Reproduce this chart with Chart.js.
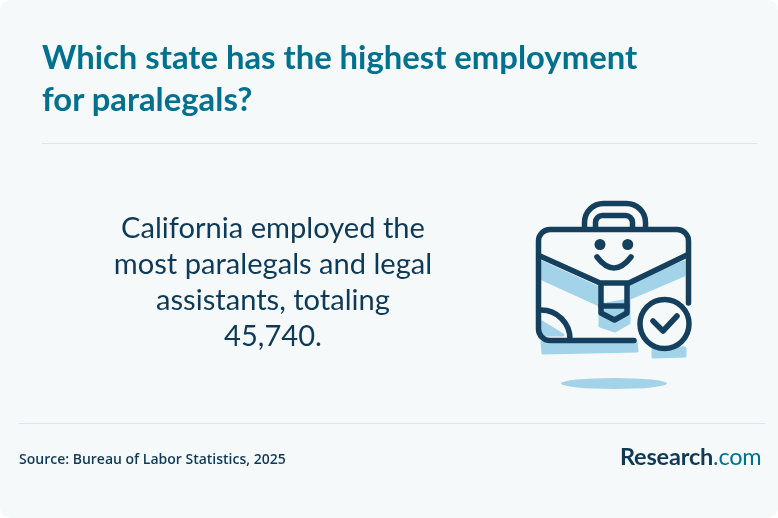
<!DOCTYPE html>
<html>
<head>
<meta charset="utf-8">
<script src="https://cdn.jsdelivr.net/npm/chart.js@4"></script>
<style>
  html, body { margin: 0; padding: 0; background: #fff; }
  #page { position: relative; width: 778px; height: 518px; overflow: hidden; background: #f6f9fa; border-radius: 10px; }
  #icon { position: absolute; left: 0; top: 0; }
  .rule { position: absolute; height: 1px; background: #dde3e6; }
  .line { position: absolute; white-space: nowrap; }
  #title div { position: absolute; left: 42px; white-space: nowrap; font: 700 32.8px Lato, sans-serif; color: #00708f; }
  #callout div { position: absolute; left: 73px; width: 400px; text-align: center; white-space: nowrap; font: 400 29.1px Lato, sans-serif; color: #0f3a57; }
  #source { left: 19px; top: 449px; font: 600 14px "Open Sans", sans-serif; color: #0f3a57; }
  #logo { left: 620px; top: 442px; font: 700 23.5px Lato, sans-serif; color: #0f3a57; letter-spacing: -0.2px; }
  #logo span { color: #00708f; font-weight: 400; }
</style>
</head>
<body>
<div id="page">
  <canvas id="icon" width="778" height="518"></canvas>
  <div id="title"></div>
  <div class="rule" style="left:42px;width:715px;top:143px"></div>
  <div id="callout"></div>
  <div class="rule" style="left:19px;width:746px;top:423px"></div>
  <div class="line" id="source"></div>
  <div class="line" id="logo">Research<span>.com</span></div>
</div>
<script>
const states = ['California'];
const employment = [45740];
const titleLines = ['Which state has the highest employment', 'for paralegals?'];
const sourceText = 'Source: Bureau of Labor Statistics, 2025';

const DARK = '#14405e';
const LIGHT = '#a3d3e8';
const BG = '#f6f9fa';

document.getElementById('source').textContent = sourceText;

titleLines.forEach((text, i) => {
  const el = document.createElement('div');
  el.textContent = text;
  el.style.top = (37 + i * 42) + 'px';
  document.getElementById('title').appendChild(el);
});

const calloutLines = [
  states[0] + ' employed the',
  'most paralegals and legal',
  'assistants, totaling',
  employment[0].toLocaleString('en-US') + '.'
];
calloutLines.forEach((text, i) => {
  const el = document.createElement('div');
  el.textContent = text;
  el.style.top = (209 + i * 36) + 'px';
  document.getElementById('callout').appendChild(el);
});

function poly(ctx, pts) {
  ctx.beginPath();
  pts.forEach((p, i) => (i ? ctx.lineTo(p[0], p[1]) : ctx.moveTo(p[0], p[1])));
  ctx.closePath();
  ctx.fill();
  ctx.stroke();
}

// the briefcase picture is decoration, not data
const briefcase = {
  id: 'briefcase',
  afterDraw(chart) {
    const ctx = chart.ctx;
    ctx.save();
    ctx.lineCap = 'round';
    ctx.lineJoin = 'round';

    ctx.fillStyle = LIGHT;
    ctx.strokeStyle = LIGHT;
    ctx.lineWidth = 3;
    poly(ctx, [[542, 262], [599, 288], [599, 305], [542, 279]]);
    poly(ctx, [[630, 284], [684, 262], [684, 275], [630, 298]]);
    poly(ctx, [[600, 305], [629, 300], [629, 323], [615, 331], [600, 326]]);
    poly(ctx, [[542, 322], [563, 335], [542, 335]]);
    poly(ctx, [[542, 342], [636, 342], [637, 351], [543, 353]]);
    poly(ctx, [[653, 348], [685, 348], [685, 356], [653, 357]]);
    ctx.beginPath();
    ctx.ellipse(614, 383.5, 53, 5.5, 0, 0, Math.PI * 2);
    ctx.fill();

    ctx.strokeStyle = DARK;
    ctx.lineWidth = 5.5;

    // handle
    ctx.beginPath();
    ctx.moveTo(584.5, 227);
    ctx.lineTo(584.5, 223);
    ctx.arcTo(584.5, 203.5, 604, 203.5, 19);
    ctx.lineTo(626, 203.5);
    ctx.arcTo(645.5, 203.5, 645.5, 223, 19);
    ctx.lineTo(645.5, 227);
    ctx.stroke();
    ctx.beginPath();
    ctx.moveTo(595.5, 228);
    ctx.lineTo(595.5, 223);
    ctx.arcTo(595.5, 215.5, 603, 215.5, 7);
    ctx.lineTo(625, 215.5);
    ctx.arcTo(632.5, 215.5, 632.5, 223, 7);
    ctx.lineTo(632.5, 228);
    ctx.stroke();

    // case outline, left open by the check badge
    ctx.beginPath();
    ctx.moveTo(688.5, 303);
    ctx.lineTo(688.5, 241);
    ctx.arcTo(688.5, 229.5, 677, 229.5, 11.5);
    ctx.lineTo(550, 229.5);
    ctx.arcTo(538.5, 229.5, 538.5, 241, 11.5);
    ctx.lineTo(538.5, 329);
    ctx.arcTo(538.5, 340.5, 550, 340.5, 11.5);
    ctx.lineTo(634, 340.5);
    ctx.stroke();

    // flap and clasp
    ctx.beginPath();
    ctx.moveTo(540, 256);
    ctx.lineTo(600, 283);
    ctx.lineTo(629, 283);
    ctx.lineTo(687, 255);
    ctx.stroke();
    ctx.beginPath();
    ctx.moveTo(601, 284);
    ctx.lineTo(601, 313);
    ctx.lineTo(614.5, 320);
    ctx.lineTo(627, 313);
    ctx.lineTo(627, 284);
    ctx.stroke();
    ctx.beginPath();
    ctx.moveTo(601, 306);
    ctx.lineTo(627, 306);
    ctx.stroke();

    // corner patch
    ctx.beginPath();
    ctx.arc(541, 339, 29, -Math.PI / 2, 0);
    ctx.stroke();

    // face
    ctx.fillStyle = DARK;
    [600, 627.7].forEach(x => {
      ctx.beginPath();
      ctx.arc(x, 244.5, 5.5, 0, Math.PI * 2);
      ctx.fill();
    });
    ctx.beginPath();
    ctx.moveTo(597, 257);
    ctx.quadraticCurveTo(614, 279, 631, 257);
    ctx.stroke();

    // check badge
    ctx.fillStyle = BG;
    ctx.beginPath();
    ctx.arc(664.5, 324, 24.5, 0, Math.PI * 2);
    ctx.fill();
    ctx.stroke();
    ctx.beginPath();
    ctx.moveTo(653, 321);
    ctx.lineTo(663, 331);
    ctx.lineTo(677, 316);
    ctx.stroke();
    ctx.restore();
  }
};

// the source only states one figure, so its bar is kept hidden and the axes are off
new Chart(document.getElementById('icon').getContext('2d'), {
  type: 'bar',
  data: {
    labels: states,
    datasets: [{ label: 'Employment', data: employment, hidden: true }]
  },
  options: {
    responsive: false,
    animation: false,
    plugins: { legend: { display: false }, tooltip: { enabled: false } },
    scales: { x: { display: false }, y: { display: false } }
  },
  plugins: [briefcase]
});
</script>
</body>
</html>
